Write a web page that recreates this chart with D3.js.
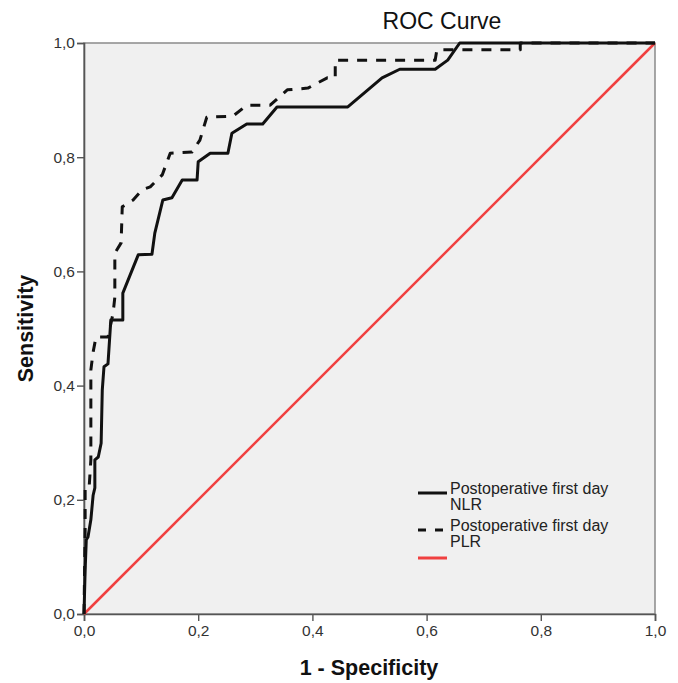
<!DOCTYPE html>
<html>
<head>
<meta charset="utf-8">
<script src="https://cdn.jsdelivr.net/npm/d3@7"></script>
<style>
  body { margin: 0; background: #fff; }
  text { font-family: "Liberation Sans", Arial, sans-serif; }
</style>
</head>
<body>
<div id="chart"></div>
<script>
// ROC points: [1 - specificity, sensitivity]
const nlrPoints = [
  [0, 0], [0.002, 0.077], [0.004, 0.130], [0.007, 0.135], [0.012, 0.165],
  [0.016, 0.208], [0.019, 0.221], [0.019, 0.270], [0.025, 0.275], [0.030, 0.299],
  [0.032, 0.392], [0.035, 0.433], [0.042, 0.438], [0.047, 0.515], [0.068, 0.515],
  [0.068, 0.562], [0.095, 0.629], [0.119, 0.630], [0.124, 0.667], [0.138, 0.725],
  [0.154, 0.729], [0.172, 0.760], [0.198, 0.760], [0.200, 0.792], [0.221, 0.807],
  [0.252, 0.807], [0.259, 0.842], [0.285, 0.858], [0.313, 0.858], [0.338, 0.888],
  [0.462, 0.888], [0.522, 0.939], [0.553, 0.954], [0.615, 0.954], [0.637, 0.970],
  [0.658, 1], [1, 1]
]
const plrPoints = [
  [0, 0], [0.002, 0.147], [0.002, 0.221], [0.009, 0.222], [0.012, 0.270],
  [0.012, 0.427], [0.016, 0.459], [0.021, 0.485], [0.042, 0.485], [0.051, 0.527],
  [0.054, 0.555], [0.054, 0.632], [0.065, 0.650], [0.067, 0.713], [0.086, 0.725],
  [0.102, 0.743], [0.116, 0.748], [0.137, 0.769], [0.151, 0.807], [0.189, 0.809],
  [0.203, 0.830], [0.215, 0.870], [0.261, 0.872], [0.285, 0.891], [0.326, 0.891],
  [0.356, 0.918], [0.392, 0.921], [0.426, 0.939], [0.440, 0.939], [0.440, 0.970],
  [0.615, 0.970], [0.618, 0.988], [0.764, 0.988], [0.764, 1], [1, 1]
]
const refPoints = [[0, 0], [1, 1]]
const tickValues = [0, 0.2, 0.4, 0.6, 0.8, 1.0]
const legendLabels = [["Postoperative first day", "NLR"], ["Postoperative first day", "PLR"], []]

const width = 678, height = 683
const margin = {top: 43, right: 23, bottom: 69, left: 84}

const svg = d3.select("#chart").append("svg")
  .attr("width", width)
  .attr("height", height)

const x = d3.scaleLinear().domain([0, 1]).range([margin.left, width - margin.right])
const y = d3.scaleLinear().domain([0, 1]).range([height - margin.bottom, margin.top])

const fmt = d => d3.format(".1f")(d).replace(".", ",")

// plot background + frame
svg.append("rect")
  .attr("x", x(0)).attr("y", y(1))
  .attr("width", x(1) - x(0)).attr("height", y(0) - y(1))
  .attr("fill", "#f0f0f0")
  .attr("stroke", "#8a8a8a")
  .attr("stroke-width", 1.5)

const xAxis = svg.append("g")
  .attr("transform", `translate(0,${y(0)})`)
  .call(d3.axisBottom(x).tickValues(tickValues).tickFormat(fmt).tickSize(7).tickPadding(4))
const yAxis = svg.append("g")
  .attr("transform", `translate(${x(0)},0)`)
  .call(d3.axisLeft(y).tickValues(tickValues).tickFormat(fmt).tickSize(7).tickPadding(2))

for (const g of [xAxis, yAxis]) {
  g.select(".domain").attr("stroke", "#555").attr("stroke-width", 1.6)
  g.selectAll(".tick line").attr("stroke", "#555").attr("stroke-width", 1.4)
  g.selectAll(".tick text")
    .attr("fill", "#333")
    .style("font-family", "'Liberation Sans', Arial, sans-serif")
    .style("font-size", "15.5px")
}

const line = d3.line().x(d => x(d[0])).y(d => y(d[1]))

const curves = svg.append("g")
  .attr("fill", "none")
  .attr("stroke-linejoin", "round")

curves.append("path")
  .attr("d", line(refPoints))
  .attr("stroke", "#f04040")
  .attr("stroke-width", 2.5)

curves.append("path")
  .attr("d", line(plrPoints))
  .attr("stroke", "#111")
  .attr("stroke-width", 3)
  .attr("stroke-dasharray", "10,9")

curves.append("path")
  .attr("d", line(nlrPoints))
  .attr("stroke", "#111")
  .attr("stroke-width", 3)

// titles
svg.append("text")
  .attr("x", 442).attr("y", 29)
  .attr("text-anchor", "middle")
  .attr("font-size", 23)
  .attr("fill", "#111")
  .text("ROC Curve")

svg.append("text")
  .attr("x", 369).attr("y", 675)
  .attr("text-anchor", "middle")
  .attr("font-size", 21.5)
  .attr("font-weight", "bold")
  .attr("fill", "#111")
  .text("1 - Specificity")

svg.append("text")
  .attr("transform", `translate(33,${(y(0) + y(1)) / 2}) rotate(-90)`)
  .attr("text-anchor", "middle")
  .attr("font-size", 21.5)
  .attr("font-weight", "bold")
  .attr("fill", "#111")
  .text("Sensitivity")

// legend
const legendStyles = [
  {stroke: "#111", dash: null, y: 493},
  {stroke: "#111", dash: "8,9", y: 530},
  {stroke: "#f04040", dash: null, y: 558}
]
const legend = svg.append("g")
legendStyles.forEach((s, i) => {
  legend.append("line")
    .attr("x1", 418).attr("x2", 447)
    .attr("y1", s.y).attr("y2", s.y)
    .attr("stroke", s.stroke)
    .attr("stroke-width", 3)
    .attr("stroke-dasharray", s.dash)
  legendLabels[i].forEach((t, j) => {
    legend.append("text")
      .attr("x", 450).attr("y", s.y + 1 + j * 16)
      .attr("font-size", 16)
      .attr("fill", "#222")
      .text(t)
  })
})
</script>
</body>
</html>
